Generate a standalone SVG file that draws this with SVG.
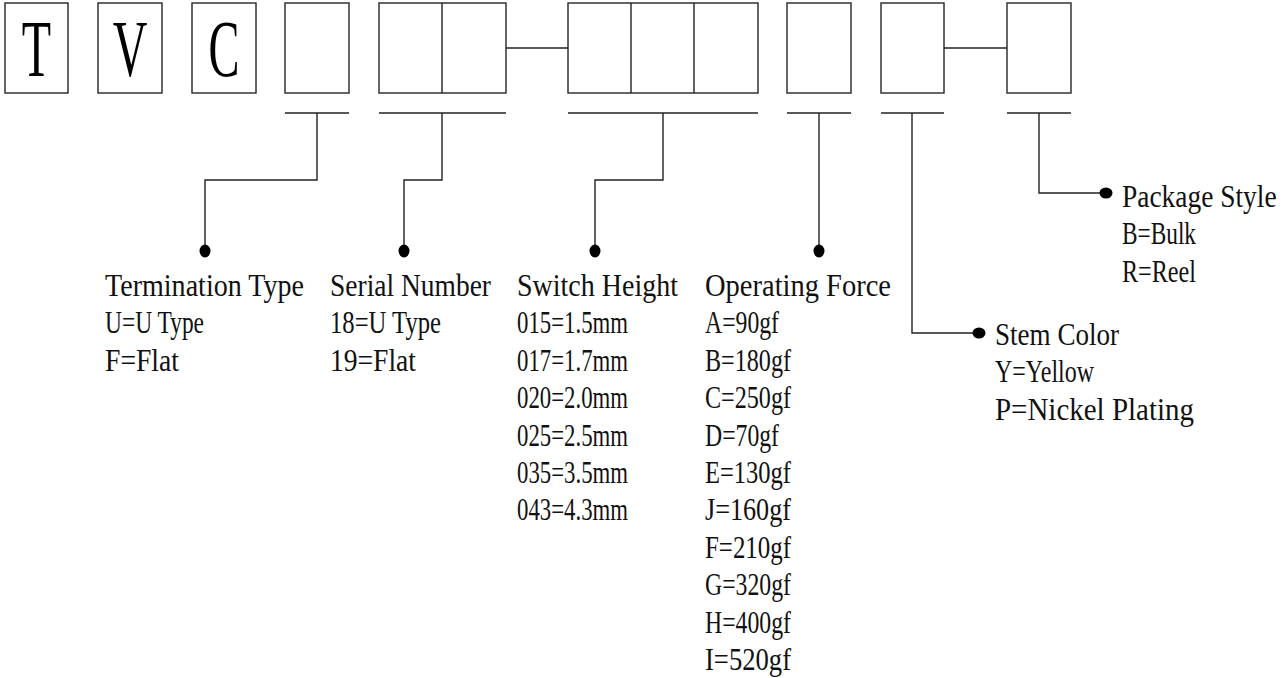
<svg xmlns="http://www.w3.org/2000/svg" width="1288" height="678" viewBox="0 0 1288 678">
<style>
.box{fill:#fff;stroke:#333;stroke-width:1.5}
.ln{fill:none;stroke:#222;stroke-width:1.4}
.dot{fill:#000}
.t{font-family:"Liberation Serif","Times New Roman",serif;font-size:32px;fill:#111}
.big{font-family:"Liberation Serif","Times New Roman",serif;font-size:80px;fill:#000;text-anchor:middle}
</style>
<rect width="1288" height="678" fill="#fff"/>
<g id="box-T"><rect class="box" x="5" y="3" width="63" height="90"/><text class="big" transform="translate(36.5,76) scale(0.6,1)">T</text></g>
<g id="box-V"><rect class="box" x="98" y="3" width="64" height="90"/><text class="big" transform="translate(130,76) scale(0.6,1)">V</text></g>
<g id="box-C"><rect class="box" x="192" y="3" width="64" height="90"/><text class="big" transform="translate(224,76) scale(0.58,1)">C</text></g>
<g id="box-termination"><rect class="box" x="285" y="3" width="64" height="90"/></g>
<g id="box-serial"><rect class="box" x="379" y="3" width="127" height="90"/><line class="ln" x1="442" y1="3" x2="442" y2="93"/></g>
<g id="box-height"><rect class="box" x="568" y="3" width="190" height="90"/><line class="ln" x1="631" y1="3" x2="631" y2="93"/><line class="ln" x1="694" y1="3" x2="694" y2="93"/></g>
<g id="box-force"><rect class="box" x="787" y="3" width="64" height="90"/></g>
<g id="box-color"><rect class="box" x="881" y="3" width="63" height="90"/></g>
<g id="box-package"><rect class="box" x="1007" y="3" width="64" height="90"/></g>
<g id="connectors">
<line class="ln" x1="506" y1="48" x2="568" y2="48"/>
<line class="ln" x1="944" y1="48" x2="1007" y2="48"/>
<line class="ln" x1="285" y1="113" x2="349" y2="113"/>
<line class="ln" x1="379" y1="113" x2="506" y2="113"/>
<line class="ln" x1="568" y1="113" x2="758" y2="113"/>
<line class="ln" x1="787" y1="113" x2="851" y2="113"/>
<line class="ln" x1="881" y1="113" x2="944" y2="113"/>
<line class="ln" x1="1007" y1="113" x2="1071" y2="113"/>
<path class="ln" d="M317 113V180H205V250"/>
<path class="ln" d="M442 113V180H404V250"/>
<path class="ln" d="M663 113V180H595V250"/>
<path class="ln" d="M819 113V250"/>
<path class="ln" d="M912 113V333H978"/>
<path class="ln" d="M1039 113V193H1105"/>
<ellipse class="dot" cx="205" cy="251" rx="5.5" ry="6.5"/>
<ellipse class="dot" cx="404" cy="251" rx="5.5" ry="6.5"/>
<ellipse class="dot" cx="595" cy="251" rx="5.5" ry="6.5"/>
<ellipse class="dot" cx="819" cy="251" rx="5.5" ry="6.5"/>
<ellipse class="dot" cx="979" cy="333" rx="6.5" ry="5.5"/>
<ellipse class="dot" cx="1106" cy="193" rx="6.5" ry="5.5"/>
</g>
<g id="label-termination">
<text class="t" x="105" y="296" textLength="199" lengthAdjust="spacingAndGlyphs">Termination Type</text>
<text class="t" x="105" y="333.4" textLength="99" lengthAdjust="spacingAndGlyphs">U=U Type</text>
<text class="t" x="105" y="370.8" textLength="74" lengthAdjust="spacingAndGlyphs">F=Flat</text>
</g>
<g id="label-serial">
<text class="t" x="330" y="296" textLength="161" lengthAdjust="spacingAndGlyphs">Serial Number</text>
<text class="t" x="330" y="333.4" textLength="111" lengthAdjust="spacingAndGlyphs">18=U Type</text>
<text class="t" x="330" y="370.8" textLength="86" lengthAdjust="spacingAndGlyphs">19=Flat</text>
</g>
<g id="label-height">
<text class="t" x="517" y="296" textLength="161" lengthAdjust="spacingAndGlyphs">Switch Height</text>
<text class="t" x="517" y="333.4" textLength="111" lengthAdjust="spacingAndGlyphs">015=1.5mm</text>
<text class="t" x="517" y="370.8" textLength="111" lengthAdjust="spacingAndGlyphs">017=1.7mm</text>
<text class="t" x="517" y="408.2" textLength="111" lengthAdjust="spacingAndGlyphs">020=2.0mm</text>
<text class="t" x="517" y="445.6" textLength="111" lengthAdjust="spacingAndGlyphs">025=2.5mm</text>
<text class="t" x="517" y="483" textLength="111" lengthAdjust="spacingAndGlyphs">035=3.5mm</text>
<text class="t" x="517" y="520.4" textLength="111" lengthAdjust="spacingAndGlyphs">043=4.3mm</text>
</g>
<g id="label-force">
<text class="t" x="705" y="296" textLength="186" lengthAdjust="spacingAndGlyphs">Operating Force</text>
<text class="t" x="705" y="333.4" textLength="74" lengthAdjust="spacingAndGlyphs">A=90gf</text>
<text class="t" x="705" y="370.8" textLength="86" lengthAdjust="spacingAndGlyphs">B=180gf</text>
<text class="t" x="705" y="408.2" textLength="86" lengthAdjust="spacingAndGlyphs">C=250gf</text>
<text class="t" x="705" y="445.6" textLength="74" lengthAdjust="spacingAndGlyphs">D=70gf</text>
<text class="t" x="705" y="483" textLength="86" lengthAdjust="spacingAndGlyphs">E=130gf</text>
<text class="t" x="705" y="520.4" textLength="86" lengthAdjust="spacingAndGlyphs">J=160gf</text>
<text class="t" x="705" y="557.8" textLength="86" lengthAdjust="spacingAndGlyphs">F=210gf</text>
<text class="t" x="705" y="595.2" textLength="86" lengthAdjust="spacingAndGlyphs">G=320gf</text>
<text class="t" x="705" y="632.6" textLength="86" lengthAdjust="spacingAndGlyphs">H=400gf</text>
<text class="t" x="705" y="670" textLength="86" lengthAdjust="spacingAndGlyphs">I=520gf</text>
</g>
<g id="label-color">
<text class="t" x="995" y="345" textLength="124" lengthAdjust="spacingAndGlyphs">Stem Color</text>
<text class="t" x="995" y="382.4" textLength="99" lengthAdjust="spacingAndGlyphs">Y=Yellow</text>
<text class="t" x="995" y="419.8" textLength="199" lengthAdjust="spacingAndGlyphs">P=Nickel Plating</text>
</g>
<g id="label-package">
<text font-family="Liberation Serif, Times New Roman, serif" font-size="26" fill="#111" transform="translate(1122,207) scale(1.055,1.23)">Package Style</text>
<text class="t" x="1122" y="244.4" textLength="74" lengthAdjust="spacingAndGlyphs">B=Bulk</text>
<text class="t" x="1122" y="281.8" textLength="74" lengthAdjust="spacingAndGlyphs">R=Reel</text>
</g>
</svg>
